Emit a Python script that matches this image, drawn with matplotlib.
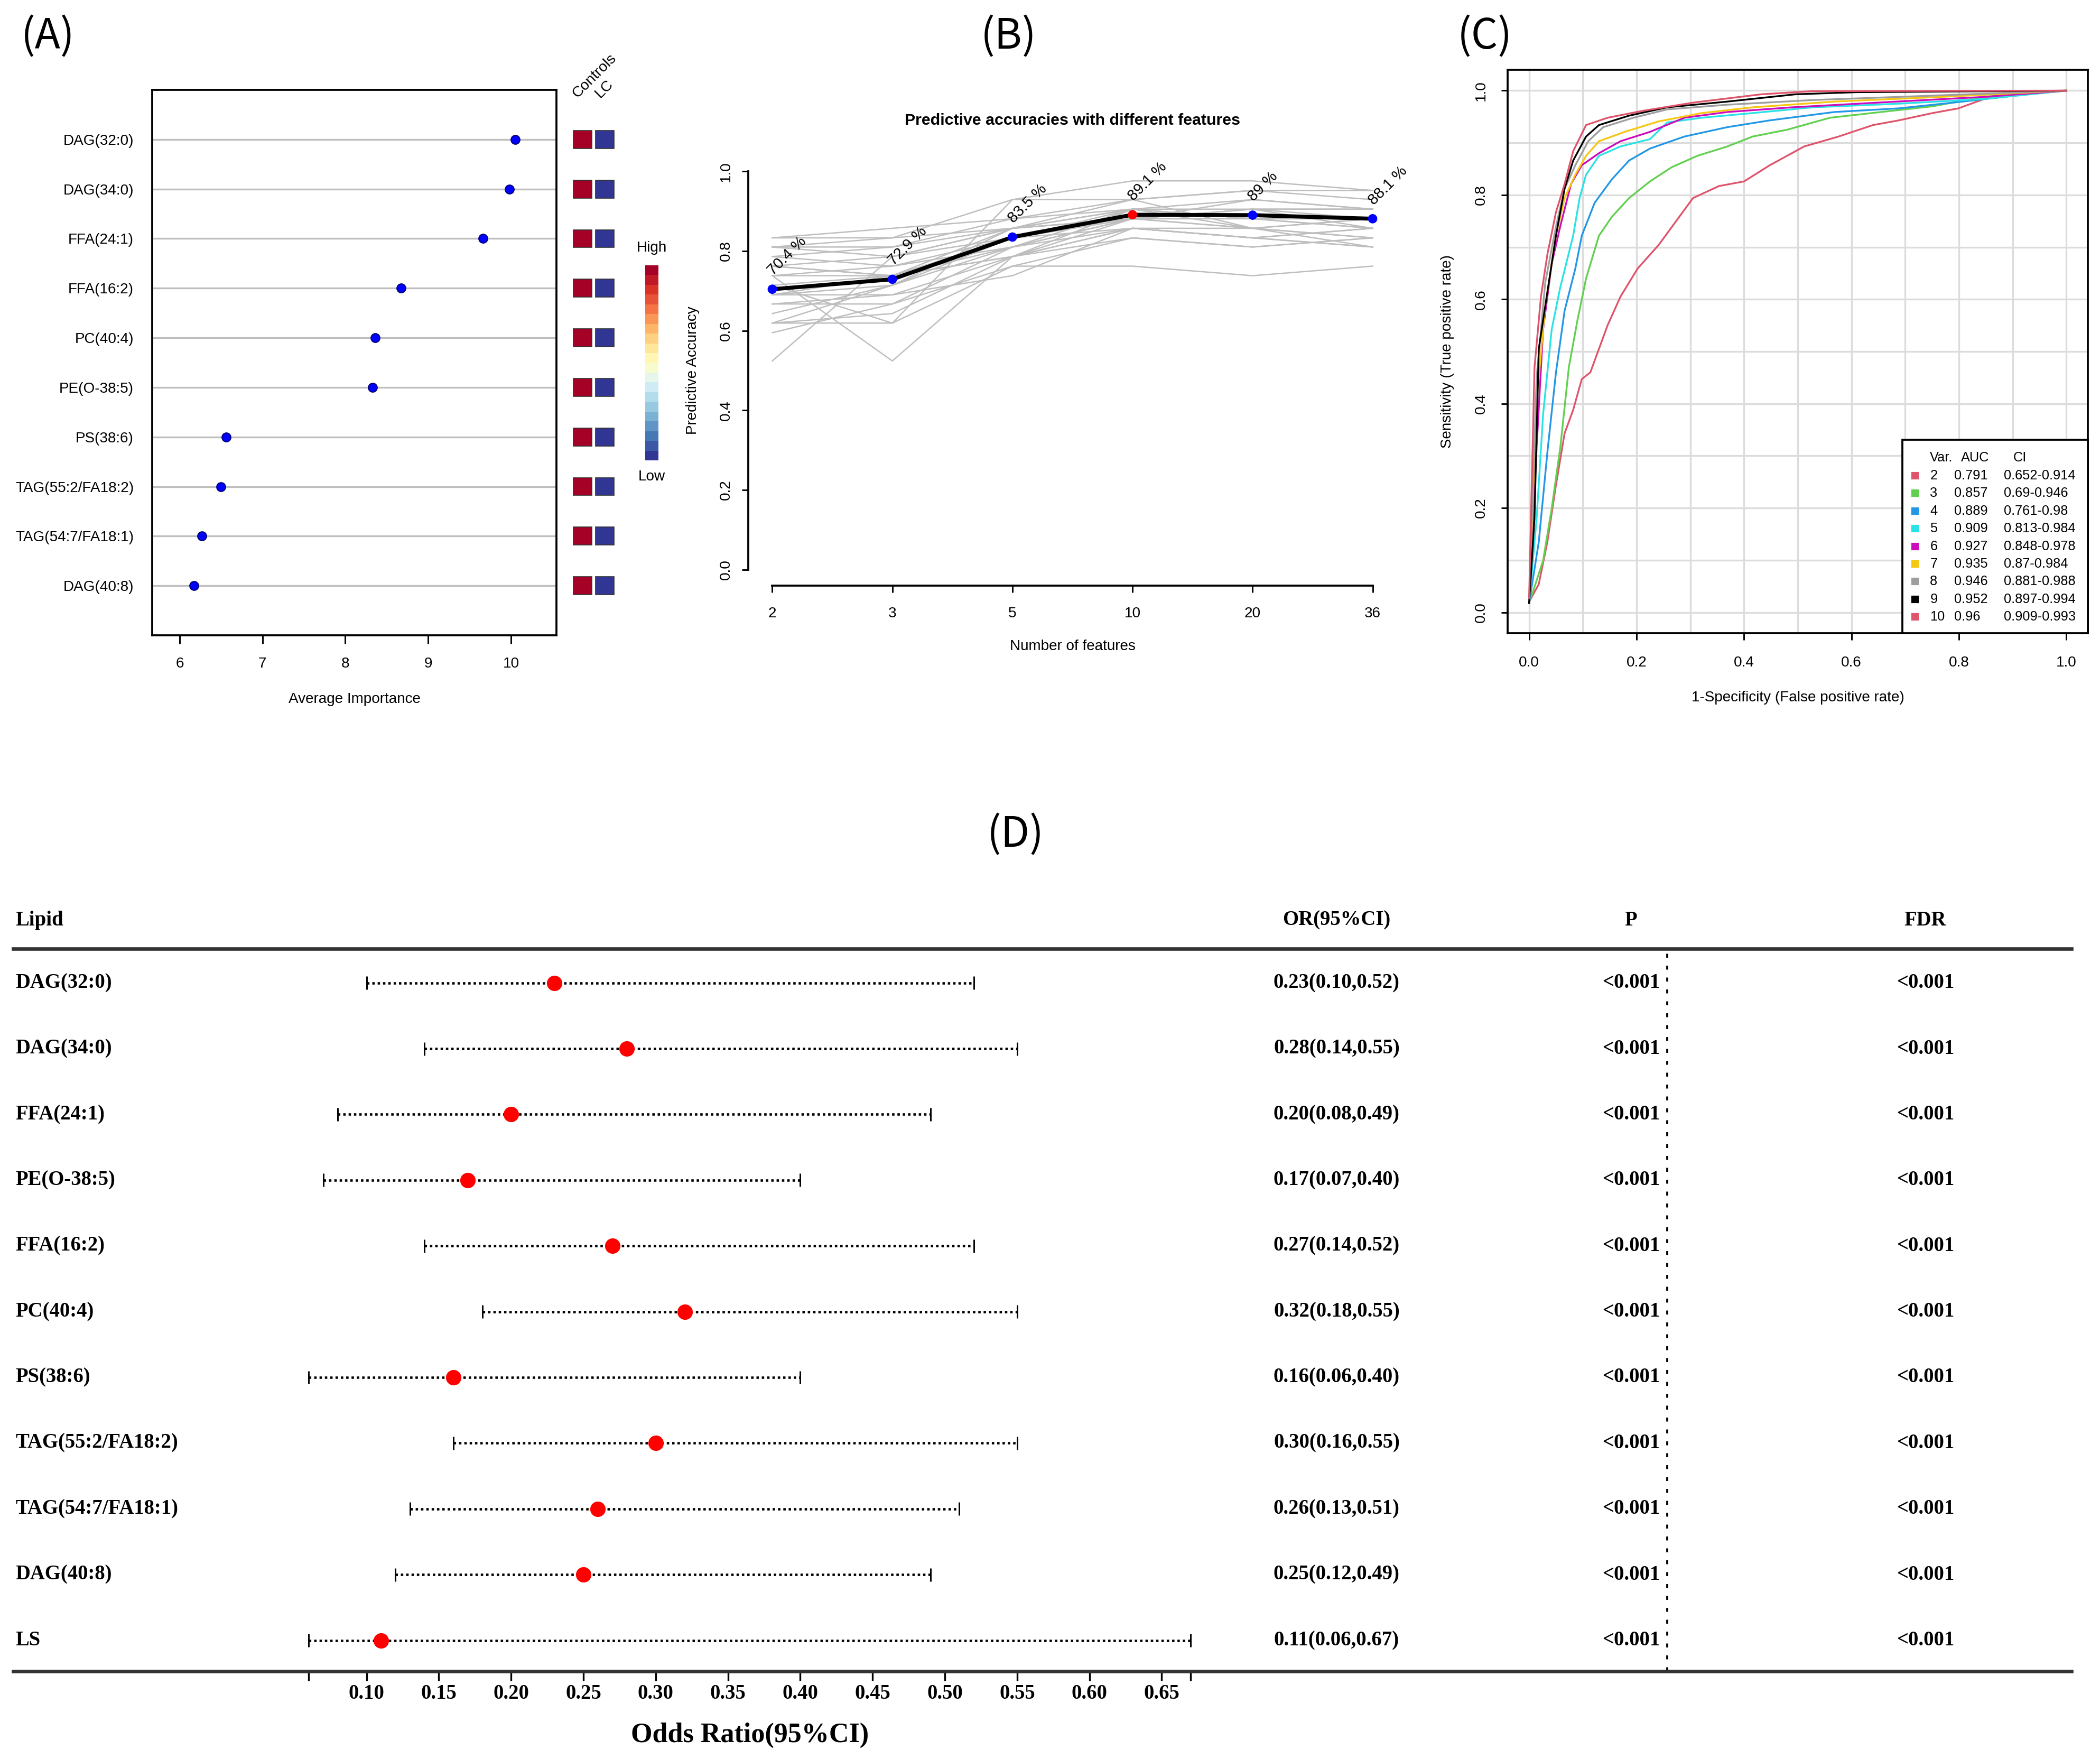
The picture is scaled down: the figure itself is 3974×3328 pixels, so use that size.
import numpy as np
import matplotlib
matplotlib.use("Agg")
import matplotlib.pyplot as plt
from matplotlib.patches import Rectangle
import matplotlib.transforms as mtransforms
from matplotlib.colorbar import ColorbarBase

# ======================= DATA =======================
# (A) average importance (random forest)
imp_lipids = ["DAG(32:0)", "DAG(34:0)", "FFA(24:1)", "FFA(16:2)", "PC(40:4)",
              "PE(O-38:5)", "PS(38:6)", "TAG(55:2/FA18:2)", "TAG(54:7/FA18:1)", "DAG(40:8)"]
imp_values = [10.05, 9.98, 9.66, 8.67, 8.36, 8.33, 6.56, 6.50, 6.27, 6.17]
heat_groups = ["Controls", "LC"]
heat_level_controls = [1, 1, 1, 1, 1, 1, 1, 1, 1, 1]   # 1 = High
heat_level_lc = [0, 0, 0, 0, 0, 0, 0, 0, 0, 0]         # 0 = Low

# (B) predictive accuracies
feat_numbers = ["2", "3", "5", "10", "20", "36"]
acc_mean = [0.704, 0.729, 0.835, 0.891, 0.890, 0.881]
acc_runs = [
    [0.833, 0.833, 0.929, 0.976, 0.976, 0.952],
    [0.833, 0.857, 0.881, 0.929, 0.952, 0.952],
    [0.810, 0.810, 0.857, 0.905, 0.905, 0.905],
    [0.810, 0.786, 0.833, 0.881, 0.929, 0.905],
    [0.786, 0.810, 0.881, 0.905, 0.881, 0.881],
    [0.762, 0.786, 0.857, 0.881, 0.857, 0.881],
    [0.762, 0.738, 0.833, 0.905, 0.881, 0.857],
    [0.738, 0.762, 0.810, 0.881, 0.905, 0.857],
    [0.738, 0.738, 0.857, 0.929, 0.857, 0.833],
    [0.714, 0.738, 0.786, 0.857, 0.833, 0.857],
    [0.690, 0.714, 0.833, 0.881, 0.881, 0.881],
    [0.690, 0.738, 0.810, 0.905, 0.857, 0.833],
    [0.667, 0.690, 0.786, 0.857, 0.833, 0.810],
    [0.619, 0.714, 0.857, 0.881, 0.905, 0.905],
    [0.619, 0.643, 0.786, 0.905, 0.881, 0.857],
    [0.619, 0.619, 0.762, 0.833, 0.810, 0.833],
    [0.595, 0.667, 0.810, 0.881, 0.857, 0.881],
    [0.524, 0.786, 0.857, 0.905, 0.929, 0.905],
    [0.738, 0.524, 0.786, 0.833, 0.810, 0.833],
    [0.667, 0.667, 0.762, 0.762, 0.738, 0.762],
    [0.643, 0.714, 0.810, 0.857, 0.857, 0.810],
    [0.786, 0.762, 0.833, 0.857, 0.833, 0.810],
    [0.810, 0.833, 0.857, 0.881, 0.905, 0.881],
    [0.762, 0.738, 0.786, 0.881, 0.881, 0.881],
    [0.690, 0.690, 0.738, 0.857, 0.833, 0.857],
    [0.714, 0.619, 0.929, 0.929, 0.952, 0.929],
]

# (C) ROC curves
roc_vars = ["2", "3", "4", "5", "6", "7", "8", "9", "10"]
roc_auc_text = ["0.791", "0.857", "0.889", "0.909", "0.927", "0.935", "0.946", "0.952", "0.96"]
roc_ci_text = ["0.652-0.914", "0.69-0.946", "0.761-0.98", "0.813-0.984", "0.848-0.978",
               "0.87-0.984", "0.881-0.988", "0.897-0.994", "0.909-0.993"]
roc_colors = ["#DF536B", "#61D04F", "#2297E6", "#28E2E5", "#CD0BBC",
              "#F5C710", "#9E9E9E", "#000000", "#DF536B"]
fpr_v2 = [0.0, 0.018, 0.034, 0.05, 0.066, 0.082, 0.098, 0.114, 0.13, 0.146, 0.17, 0.202, 0.241, 0.273,
          0.305, 0.353, 0.4, 0.448, 0.512, 0.576, 0.64, 0.688, 0.751, 0.799, 0.847, 0.887, 1.0]
tpr_v2 = [0.02, 0.054, 0.135, 0.244, 0.343, 0.388, 0.447, 0.46, 0.505, 0.55, 0.605, 0.659, 0.704, 0.749,
          0.794, 0.817, 0.826, 0.857, 0.893, 0.912, 0.934, 0.943, 0.957, 0.966, 0.984, 0.997, 1.0]
fpr_v3 = [0.0, 0.006, 0.026, 0.042, 0.058, 0.074, 0.09, 0.106, 0.13, 0.154, 0.186, 0.225, 0.265, 0.313,
          0.369, 0.416, 0.48, 0.56, 0.655, 0.751, 0.847, 0.927, 1.0]
tpr_v3 = [0.02, 0.036, 0.099, 0.199, 0.316, 0.47, 0.56, 0.64, 0.722, 0.758, 0.794, 0.826, 0.853, 0.875,
          0.893, 0.912, 0.925, 0.948, 0.959, 0.97, 0.988, 0.997, 1.0]
fpr_v4 = [0.0, 0.018, 0.034, 0.05, 0.066, 0.086, 0.098, 0.122, 0.154, 0.186, 0.225, 0.289, 0.369, 0.448,
          0.568, 0.688, 0.807, 0.927, 1.0]
tpr_v4 = [0.018, 0.135, 0.307, 0.46, 0.578, 0.659, 0.722, 0.785, 0.83, 0.866, 0.889, 0.912, 0.93, 0.943,
          0.959, 0.966, 0.979, 0.993, 1.0]
fpr_v5 = [0.0, 0.014, 0.026, 0.042, 0.058, 0.082, 0.094, 0.106, 0.13, 0.17, 0.225, 0.257, 0.321, 0.416,
          0.528, 0.688, 0.847, 1.0]
tpr_v5 = [0.018, 0.18, 0.379, 0.542, 0.623, 0.722, 0.794, 0.839, 0.875, 0.893, 0.907, 0.939, 0.948, 0.957,
          0.968, 0.975, 0.984, 1.0]
fpr_v6 = [0.0, 0.014, 0.026, 0.042, 0.058, 0.078, 0.098, 0.13, 0.17, 0.225, 0.289, 0.369, 0.489, 0.648,
          0.847, 1.0]
tpr_v6 = [0.018, 0.316, 0.542, 0.668, 0.74, 0.821, 0.857, 0.88, 0.903, 0.921, 0.948, 0.959, 0.968, 0.977,
          0.988, 1.0]
fpr_v7 = [0.0, 0.014, 0.03, 0.05, 0.066, 0.086, 0.106, 0.13, 0.178, 0.241, 0.321, 0.416, 0.568, 0.767, 1.0]
tpr_v7 = [0.018, 0.406, 0.587, 0.722, 0.794, 0.839, 0.875, 0.903, 0.921, 0.941, 0.957, 0.968, 0.979, 0.988, 1.0]
fpr_v8 = [0.0, 0.014, 0.03, 0.05, 0.066, 0.086, 0.11, 0.138, 0.194, 0.257, 0.369, 0.528, 0.688, 1.0]
tpr_v8 = [0.018, 0.451, 0.632, 0.74, 0.812, 0.857, 0.903, 0.93, 0.948, 0.964, 0.973, 0.982, 0.988, 1.0]
fpr_v9 = [0.0, 0.01, 0.018, 0.034, 0.05, 0.066, 0.082, 0.106, 0.13, 0.186, 0.257, 0.369, 0.496, 0.608, 1.0]
tpr_v9 = [0.018, 0.18, 0.505, 0.614, 0.722, 0.812, 0.866, 0.912, 0.934, 0.952, 0.968, 0.979, 0.993, 0.997, 1.0]
fpr_v10 = [0.0, 0.01, 0.022, 0.034, 0.05, 0.066, 0.082, 0.106, 0.146, 0.21, 0.305, 0.432, 0.528, 1.0]
tpr_v10 = [0.027, 0.469, 0.605, 0.686, 0.767, 0.821, 0.884, 0.934, 0.948, 0.961, 0.977, 0.993, 0.999, 1.0]
roc_fprs = [fpr_v2, fpr_v3, fpr_v4, fpr_v5, fpr_v6, fpr_v7, fpr_v8, fpr_v9, fpr_v10]
roc_tprs = [tpr_v2, tpr_v3, tpr_v4, tpr_v5, tpr_v6, tpr_v7, tpr_v8, tpr_v9, tpr_v10]

# (D) forest plot
forest_lipids = ["DAG(32:0)", "DAG(34:0)", "FFA(24:1)", "PE(O-38:5)", "FFA(16:2)", "PC(40:4)",
                 "PS(38:6)", "TAG(55:2/FA18:2)", "TAG(54:7/FA18:1)", "DAG(40:8)", "LS"]
or_est = [0.23, 0.28, 0.20, 0.17, 0.27, 0.32, 0.16, 0.30, 0.26, 0.25, 0.11]
or_lo = [0.10, 0.14, 0.08, 0.07, 0.14, 0.18, 0.06, 0.16, 0.13, 0.12, 0.06]
or_hi = [0.52, 0.55, 0.49, 0.40, 0.52, 0.55, 0.40, 0.55, 0.51, 0.49, 0.67]
p_text = ["<0.001"] * 11
fdr_text = ["<0.001"] * 11
or_axis_ticks = [0.10, 0.15, 0.20, 0.25, 0.30, 0.35, 0.40, 0.45, 0.50, 0.55, 0.60, 0.65]

# ======================= LAYOUT =======================
W, H = 3974, 3328
DPI = 300
SANS = "Liberation Sans"
SERIF = "Liberation Serif"
CJK = ["Noto Sans CJK SC", "DejaVu Sans"]
plt.rcParams["font.family"] = SANS

fig = plt.figure(figsize=(W / DPI, H / DPI), dpi=DPI)
fig.patch.set_facecolor("white")


def frect(l, t, r, b):
    return [l / W, 1 - b / H, (r - l) / W, (b - t) / H]


def fpt(x, y):
    return (x / W, 1 - y / H)


# panel letters
for lab, (px, py) in [("(A)", (91, 70)), ("(B)", (1909, 70)), ("(C)", (2810, 70)), ("(D)", (1922, 1580))]:
    fig.text(*fpt(px, py), lab, family=CJK, fontsize=19, ha="center", va="center")

# ----------------------- (A) -----------------------
axA = fig.add_axes(frect(288, 170, 1053, 1202))
nA = len(imp_lipids)
yA = np.arange(nA, 0, -1)
axA.set_xlim(5.668, 10.549)
axA.set_ylim(0, nA + 1)
axA.hlines(yA, 5.668, 10.549, color="#BEBEBE", lw=0.8, zorder=1)
axA.plot(imp_values, yA, "o", ms=4.0, mfc="#0000FF", mec="#00007A", mew=0.5, zorder=3)
axA.set_yticks(yA)
axA.set_yticklabels(imp_lipids)
axA.tick_params(axis="y", length=0, pad=8.4, labelsize=6.7)
axA.set_xticks([6, 7, 8, 9, 10])
axA.tick_params(axis="x", length=3.8, width=0.7, pad=6, labelsize=6.7)
for s in axA.spines.values():
    s.set_linewidth(0.9)
axA.text(0.5, -0.117, "Average Importance", transform=axA.transAxes, ha="center", va="center", fontsize=6.7)

# heat strip
cmapA = plt.get_cmap("RdYlBu_r", 20)
axH = fig.add_axes(frect(1081, 170, 1166, 1202))
axH.set_xlim(0, 2)
axH.set_ylim(0, nA + 1)
axH.axis("off")
for j, levels in enumerate([heat_level_controls, heat_level_lc]):
    for yy, lv in zip(yA, levels):
        axH.add_patch(Rectangle((j + 0.09, yy - 0.18), 0.82, 0.36, facecolor=cmapA(float(lv)),
                                edgecolor="#333333", lw=0.4))
for (gx, gy), g in zip([(1093, 186), (1136, 186)], heat_groups):
    fig.text(*fpt(gx, gy), g, rotation=45, rotation_mode="anchor", ha="left", va="baseline", fontsize=6.8)

# colour key
axK = fig.add_axes(frect(1221, 502, 1246, 871))
cb = ColorbarBase(axK, cmap=cmapA, orientation="vertical")
cb.set_ticks([])
cb.outline.set_visible(False)
fig.text(*fpt(1233, 469), "High", ha="center", va="center", fontsize=6.7)
fig.text(*fpt(1233, 902), "Low", ha="center", va="center", fontsize=6.7)

# ----------------------- (B) -----------------------
axB = fig.add_axes(frect(1416, 294, 2643, 1108))
xB = np.arange(len(feat_numbers))
for run in acc_runs:
    axB.plot(xB, run, color="#BEBEBE", lw=0.6, zorder=1)
axB.plot(xB, acc_mean, color="black", lw=1.8, zorder=2)
best = int(np.argmax(acc_mean))
ptcol = ["red" if i == best else "blue" for i in range(len(acc_mean))]
axB.scatter(xB, acc_mean, c=ptcol, s=18, zorder=3, linewidths=0)
for xi, v in zip(xB, acc_mean):
    axB.annotate(f"{round(v * 100, 1):g} %", (xi, v), xytext=(1.5, 5), textcoords="offset points",
                 rotation=45, rotation_mode="anchor", ha="left", va="bottom", fontsize=7,
                 annotation_clip=False)
axB.set_xlim(-0.2, len(feat_numbers) - 0.8)
axB.set_ylim(-0.04, 1.04)
for s in ["top", "right"]:
    axB.spines[s].set_visible(False)
axB.spines["left"].set_bounds(0, 1)
axB.spines["bottom"].set_bounds(0, len(feat_numbers) - 1)
for s in ["left", "bottom"]:
    axB.spines[s].set_linewidth(0.9)
axB.set_xticks(xB)
axB.set_xticklabels(feat_numbers)
yticksB = [0.0, 0.2, 0.4, 0.6, 0.8, 1.0]
axB.set_yticks(yticksB)
axB.set_yticklabels([f"{t:.1f}" for t in yticksB], rotation=90, va="center")
axB.tick_params(axis="x", length=3, width=0.7, pad=6.7, labelsize=6.7)
axB.tick_params(axis="y", length=3, width=0.7, pad=4, labelsize=6.7)
axB.text(0.5, 1.081, "Predictive accuracies with different features", transform=axB.transAxes,
         ha="center", va="center", fontsize=7.3, fontweight="bold")
axB.text(0.5, -0.141, "Number of features", transform=axB.transAxes, ha="center", va="center", fontsize=6.7)
axB.text(-0.0856, 0.5, "Predictive Accuracy", transform=axB.transAxes, ha="center", va="center",
         rotation=90, fontsize=6.7)

# ----------------------- (C) -----------------------
axC = fig.add_axes(frect(2853, 132, 3951, 1198))
axC.set_xlim(-0.04, 1.04)
axC.set_ylim(-0.04, 1.04)
gridv = [0.0, 0.1, 0.2, 0.3, 0.4, 0.5, 0.6, 0.7, 0.8, 0.9, 1.0]
for g in gridv:
    axC.axvline(g, color="#DCDCDC", lw=0.8, zorder=0)
    axC.axhline(g, color="#DCDCDC", lw=0.8, zorder=0)
for fx, ty, col in zip(roc_fprs, roc_tprs, roc_colors):
    axC.plot(fx, ty, color=col, lw=0.8, zorder=2)
ticksC = [0.0, 0.2, 0.4, 0.6, 0.8, 1.0]
axC.set_xticks(ticksC)
axC.set_xticklabels([f"{t:.1f}" for t in ticksC])
axC.set_yticks(ticksC)
axC.set_yticklabels([f"{t:.1f}" for t in ticksC], rotation=90, va="center")
axC.tick_params(axis="x", length=3, width=0.7, pad=7.4, labelsize=6.7)
axC.tick_params(axis="y", length=3, width=0.7, pad=5.8, labelsize=6.7)
for s in axC.spines.values():
    s.set_linewidth(0.9)
axC.text(0.5, -0.114, "1-Specificity (False positive rate)", transform=axC.transAxes,
         ha="center", va="center", fontsize=6.7)
axC.text(-0.104, 0.5, "Sensitivity (True positive rate)", transform=axC.transAxes,
         ha="center", va="center", rotation=90, fontsize=6.7)
# legend box
axC.add_patch(Rectangle((0.680, 0.0), 0.320, 0.343, transform=axC.transAxes, facecolor="white",
                        edgecolor="black", lw=0.9, zorder=5, clip_on=False))
for txt, xx in [("Var.", 0.728), ("AUC", 0.781), ("CI", 0.871)]:
    axC.text(xx, 0.311, txt, transform=axC.transAxes, ha="left", va="center", fontsize=6.1, zorder=6)
for i, (v, a, c, col) in enumerate(zip(roc_vars, roc_auc_text, roc_ci_text, roc_colors)):
    yy = 0.2795 - 0.03133 * i
    axC.plot([0.702], [yy], "s", color=col, ms=2.6, transform=axC.transAxes, zorder=6, clip_on=False)
    axC.text(0.728, yy, v, transform=axC.transAxes, ha="left", va="center", fontsize=6.1, zorder=6)
    axC.text(0.770, yy, a, transform=axC.transAxes, ha="left", va="center", fontsize=6.1, zorder=6)
    axC.text(0.855, yy, c, transform=axC.transAxes, ha="left", va="center", fontsize=6.1, zorder=6)

# ----------------------- (D) -----------------------
axD = fig.add_axes(frect(25, 1795, 3920, 3162))
nD = len(forest_lipids)
yD = np.arange(nD)
axD.set_xlim(-0.1444, 1.2792)
axD.set_ylim(nD - 1 + 0.47, -0.52)
for s in ["left", "right"]:
    axD.spines[s].set_visible(False)
for s in ["top", "bottom"]:
    axD.spines[s].set_linewidth(1.6)
    axD.spines[s].set_color("#333333")
axD.hlines(yD, or_lo, or_hi, colors="black", linestyles=(0, (1, 1.2)), lw=1.1, zorder=2)
axD.vlines(or_lo, yD - 0.1, yD + 0.1, colors="black", lw=0.7, zorder=2)
axD.vlines(or_hi, yD - 0.1, yD + 0.1, colors="black", lw=0.7, zorder=2)
axD.plot(or_est, yD, "o", color="red", ms=7, mec="none", zorder=3)
dt = [min(or_lo)] + or_axis_ticks + [max(or_hi)]
axD.set_xticks(dt)
axD.set_xticklabels([""] + [f"{t:.2f}" for t in or_axis_ticks] + [""],
                    fontfamily=SERIF, fontweight="bold", fontsize=9.3)
axD.tick_params(axis="x", length=4.3, width=0.8, pad=1.5)
axD.set_yticks([])
trD = mtransforms.blended_transform_factory(axD.transAxes, axD.transData)
col_or, col_p, col_fdr = 0.643, 0.786, 0.929
head_y = -0.954
txt_kw = dict(fontfamily=SERIF, fontweight="bold", fontsize=9.3, va="center", transform=trD, clip_on=False)
axD.text(0.001, head_y, "Lipid", ha="left", **txt_kw)
axD.text(col_or, head_y, "OR(95%CI)", ha="center", **txt_kw)
axD.text(col_p, head_y, "P", ha="center", **txt_kw)
axD.text(col_fdr, head_y, "FDR", ha="center", **txt_kw)
for yy, name, e, lo, hi, p, f in zip(yD, forest_lipids, or_est, or_lo, or_hi, p_text, fdr_text):
    axD.text(0.001, yy, name, ha="left", **txt_kw)
    axD.text(col_or, yy, f"{e:.2f}({lo:.2f},{hi:.2f})", ha="center", **txt_kw)
    axD.text(col_p, yy, p, ha="center", **txt_kw)
    axD.text(col_fdr, yy, f, ha="center", **txt_kw)
axD.plot([0.8036, 0.8036], [0, 1], transform=axD.transAxes, color="black", lw=0.9,
         linestyle=(0, (2, 4)), zorder=1)
axD.text((min(or_lo) + max(or_hi)) / 2, -0.0885, "Odds Ratio(95%CI)",
         transform=mtransforms.blended_transform_factory(axD.transData, axD.transAxes),
         ha="center", va="center", fontfamily=SERIF, fontweight="bold", fontsize=12.5)

fig.savefig("out.png", dpi=DPI, facecolor="white")
